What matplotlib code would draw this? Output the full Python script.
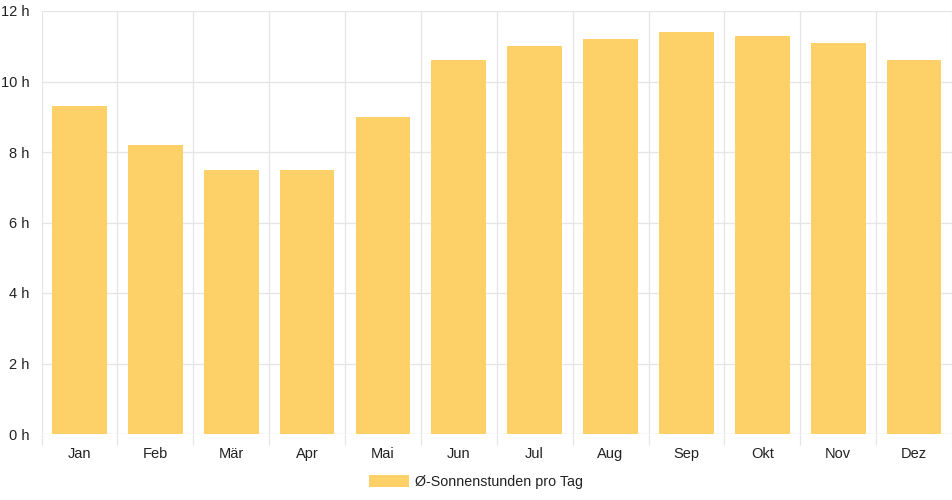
import matplotlib
matplotlib.use("Agg")
import matplotlib.pyplot as plt
from matplotlib.patches import Patch
import numpy as np

months = ["Jan", "Feb", "Mär", "Apr", "Mai", "Jun", "Jul", "Aug", "Sep", "Okt", "Nov", "Dez"]
sun_hours = [9.3, 8.2, 7.5, 7.5, 9.0, 10.6, 11.0, 11.2, 11.4, 11.3, 11.1, 10.6]
y_ticks = [0, 2, 4, 6, 8, 10, 12]
series_label = "Ø-Sonnenstunden pro Tag"

plt.rcParams['font.family'] = ['Liberation Sans', 'DejaVu Sans']

W, H = 952, 500
fig = plt.figure(figsize=(W / 100, H / 100), dpi=100)
ax = fig.add_axes([41.5 / W, (H - 434) / H, (W - 41.5) / W, (434 - 11) / H])

bar_color = "#fdd068"
grid_color = "#e5e5e5"
text_color = "#222222"

x = np.arange(len(months))
ax.bar(x, sun_hours, width=0.72, color=bar_color, zorder=2)

ax.set_xlim(-0.5, len(months) - 0.5)
ax.set_ylim(0, 12)

# y axis
ax.set_yticks(y_ticks)
ax.set_yticklabels([f"{v} h" for v in y_ticks])
ax.tick_params(axis='y', length=0, pad=8.5, labelsize=10.5, labelcolor=text_color)
for v in y_ticks:
    ax.axhline(v, color=("#cfcfcf" if v == 0 else grid_color), lw=0.9, zorder=1)

# x axis
ax.set_xticks(x)
ax.set_xticklabels(months)
ax.set_xticks(np.arange(-0.5, len(months) - 0.4, 1), minor=True)
ax.tick_params(axis='x', which='major', length=0, pad=9.5, labelsize=10.5, labelcolor=text_color)
ax.tick_params(axis='x', which='minor', length=8, width=0.9, color=grid_color)
for b in np.arange(-0.5, len(months) - 0.4, 1):
    ax.axvline(b, color=grid_color, lw=0.9, zorder=1)

for s in ax.spines.values():
    s.set_visible(False)

handle = Patch(facecolor=bar_color, edgecolor='none', label=series_label)
fig.legend(handles=[handle], loc='center', bbox_to_anchor=(476 / W, (H - 482) / H),
           frameon=False, fontsize=10.3, handlelength=2.8, handleheight=0.95,
           handletextpad=0.45, labelcolor=text_color)

fig.savefig("out.png", dpi=100)
